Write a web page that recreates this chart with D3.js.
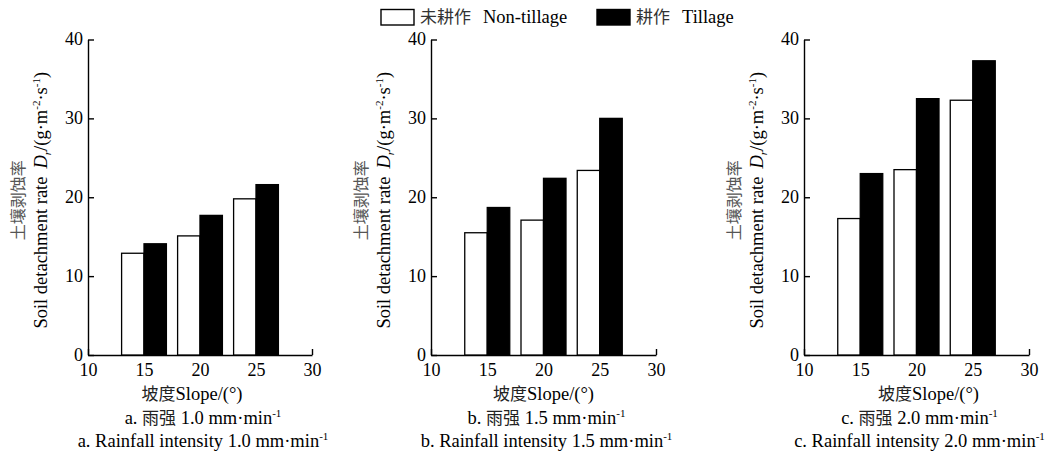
<!DOCTYPE html>
<html>
<head>
<meta charset="utf-8">
<script src="https://cdn.jsdelivr.net/npm/d3@7"></script>
<style>
  html, body { margin: 0; padding: 0; background: #fff; }
  svg { display: block; }
</style>
</head>
<body>
<svg id="chart" width="1046" height="457"></svg>
<script>
// ---- data ----
const slopes = [15, 20, 25];
const xTicks = [10, 15, 20, 25, 30];
const yTicks = [0, 10, 20, 30, 40];
const panels = ["a", "b", "c"];
const intensities = ["1.0", "1.5", "2.0"];
const nonTillage = [
  [12.9, 15.1, 19.8],
  [15.5, 17.1, 23.4],
  [17.3, 23.5, 32.3]
];
const tillage = [
  [14.1, 17.7, 21.6],
  [18.7, 22.4, 30.0],
  [23.0, 32.5, 37.3]
];
const seriesNames = [["未耕作", "Non-tillage"], ["耕作", "Tillage"]];

// ---- layout ----
const axisX = [[88, 312], [431, 656], [804, 1029]];
const xTitleShift = [-8, 0, 12];
const yTop = 39.5, yBottom = 355;
const barW = 2; // in slope units
const serif = "'Liberation Serif','Times New Roman',serif";
const cjk = "'Noto Sans CJK SC','Noto Sans CJK JP',sans-serif";

const svg = d3.select("#chart");
const y = d3.scaleLinear().domain([0, 40]).range([yBottom, yTop]);

function addSup(sel, base, sup) {
  sel.append("tspan").text(base);
  sel.append("tspan").attr("dy", -7).attr("font-size", 11).text(sup);
  sel.append("tspan").attr("dy", 7).text("");
}

panels.forEach((p, i) => {
  const [x0, x1] = axisX[i];
  const x = d3.scaleLinear().domain([10, 30]).range([x0, x1]);
  const g = svg.append("g");

  // axes
  const yAxis = d3.axisLeft(y).tickValues(yTicks).tickSizeInner(-6).tickSizeOuter(0).tickPadding(5);
  const gy = g.append("g").attr("transform", `translate(${x0},0)`).call(yAxis);
  const xAxis = d3.axisBottom(x).tickValues(xTicks).tickSizeInner(-6).tickSizeOuter(0).tickPadding(8);
  const gx = g.append("g").attr("transform", `translate(0,${yBottom})`).call(xAxis);
  [gy, gx].forEach(a => {
    a.selectAll("path, line").attr("stroke", "#000").attr("stroke-width", 1.4);
    a.selectAll("text").attr("font-family", serif).attr("font-size", 18).attr("fill", "#000");
  });
  gy.selectAll(".tick text").attr("dy", "0.28em");

  // bars
  g.selectAll(".nt").data(slopes.map((s, j) => ({ s, v: nonTillage[i][j] })))
    .enter().append("rect")
    .attr("x", d => x(d.s - barW)).attr("width", d => x(d.s) - x(d.s - barW))
    .attr("y", d => y(d.v)).attr("height", d => y(0) - y(d.v))
    .attr("fill", "#fff").attr("stroke", "#000").attr("stroke-width", 1.3);
  g.selectAll(".tl").data(slopes.map((s, j) => ({ s, v: tillage[i][j] })))
    .enter().append("rect")
    .attr("x", d => x(d.s)).attr("width", d => x(d.s + barW) - x(d.s))
    .attr("y", d => y(d.v)).attr("height", d => y(0) - y(d.v))
    .attr("fill", "#000").attr("stroke", "#000").attr("stroke-width", 1.3);

  const cx = (x0 + x1) / 2;

  // x-axis title
  const xt = g.append("text").attr("x", cx + xTitleShift[i]).attr("y", 400).attr("text-anchor", "middle")
    .attr("font-family", serif).attr("font-size", 18.5).attr("fill", "#000");
  xt.append("tspan").attr("font-family", cjk).attr("font-size", 17).attr("fill", "#222").text("坡度");
  xt.append("tspan").text("Slope/(°)");

  // captions
  const c1 = g.append("text").attr("x", cx + 3).attr("y", 424).attr("text-anchor", "middle")
    .attr("font-family", serif).attr("font-size", 18.5).attr("fill", "#000");
  c1.append("tspan").text(p + ". ");
  c1.append("tspan").attr("font-family", cjk).attr("font-size", 17).attr("fill", "#222").text("雨强");
  addSup(c1, " " + intensities[i] + " mm·min", "-1");

  const c2 = g.append("text").attr("x", cx + 3).attr("y", 447).attr("text-anchor", "middle")
    .attr("font-family", serif).attr("font-size", 18.5).attr("fill", "#000");
  addSup(c2, p + ". Rainfall intensity " + intensities[i] + " mm·min", "-1");

  // y-axis title
  const cy = (yTop + yBottom) / 2 + 3;
  g.append("text").attr("transform", `translate(${x0 - 64},${cy}) rotate(-90)`)
    .attr("text-anchor", "middle").attr("font-family", cjk).attr("font-size", 16)
    .attr("fill", "#555").text("土壤剥蚀率");
  const yt = g.append("text").attr("transform", `translate(${x0 - 41},${cy}) rotate(-90)`)
    .attr("text-anchor", "middle").attr("font-family", serif).attr("font-size", 18.5).attr("fill", "#000");
  yt.append("tspan").text("Soil detachment rate");
  yt.append("tspan").attr("font-style", "italic").attr("dx", 8).text("D");
  yt.append("tspan").attr("font-style", "italic").attr("font-size", 11).attr("dy", 4).text("r");
  yt.append("tspan").attr("dy", -4).text("/(g·m");
  yt.append("tspan").attr("font-size", 11).attr("dy", -7).text("-2");
  yt.append("tspan").attr("dy", 7).text("·s");
  yt.append("tspan").attr("font-size", 11).attr("dy", -7).text("-1");
  yt.append("tspan").attr("dy", 7).text(")");
});

// legend
const legX = [381, 597];
const fills = ["#fff", "#000"];
seriesNames.forEach((nm, k) => {
  const lg = svg.append("g");
  lg.append("rect").attr("x", legX[k]).attr("y", 9.5).attr("width", 33).attr("height", 15.5)
    .attr("fill", fills[k]).attr("stroke", "#000").attr("stroke-width", 1.4);
  const t = lg.append("text").attr("x", legX[k] + 39).attr("y", 23)
    .attr("font-family", serif).attr("font-size", 18.5).attr("fill", "#000");
  t.append("tspan").attr("font-family", cjk).attr("font-size", 17).attr("fill", "#333").text(nm[0]);
  t.append("tspan").attr("dx", 12).text(nm[1]);
});
</script>
</body>
</html>
